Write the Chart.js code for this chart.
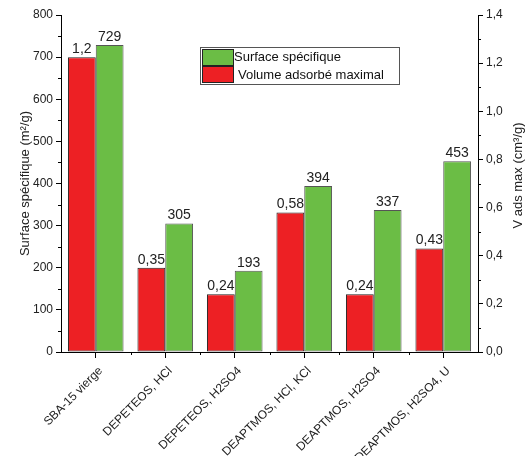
<!DOCTYPE html>
<html>
<head>
<meta charset="utf-8">
<script src="https://cdn.jsdelivr.net/npm/chart.js@4.4.1/dist/chart.umd.min.js"></script>
<style>
  body { margin: 0; background: #fff; }
</style>
</head>
<body>
<canvas id="barChart" width="528" height="456"></canvas>
<script>
var categories = ['SBA-15 vierge', 'DEPETEOS, HCl', 'DEPETEOS, H2SO4', 'DEAPTMOS, HCl, KCl', 'DEAPTMOS, H2SO4', 'DEAPTMOS, H2SO4, U'];
var surface = [729, 305, 193, 394, 337, 453];
var volume = [1.225, 0.35, 0.24, 0.58, 0.24, 0.43];
var volumeLabels = ['1,2', '0,35', '0,24', '0,58', '0,24', '0,43'];

var red = '#ED2024';
var green = '#6BBD45';
var FONT = 'Arial, "Liberation Sans", sans-serif';

Chart.defaults.font.family = FONT;

// value labels, category labels, minor ticks, axis titles and legend box
var extras = {
  id: 'extras',
  afterDatasetsDraw: function (chart) {
    var ctx = chart.ctx;
    ctx.save();
    ctx.font = '14px ' + FONT;
    ctx.fillStyle = '#222';
    ctx.textAlign = 'center';
    ctx.textBaseline = 'bottom';
    chart.getDatasetMeta(0).data.forEach(function (bar, i) {
      ctx.fillText(volumeLabels[i], bar.x, bar.y - 1);
    });
    chart.getDatasetMeta(1).data.forEach(function (bar, i) {
      ctx.fillText(String(surface[i]), bar.x, bar.y - 1);
    });
    ctx.restore();
  },
  afterDraw: function (chart) {
    var ctx = chart.ctx;
    var area = chart.chartArea;
    var sx = chart.scales.x, sy = chart.scales.y, sy1 = chart.scales.y1;
    ctx.save();
    ctx.strokeStyle = '#000';
    ctx.lineWidth = 1;
    ctx.beginPath();
    for (var v = 50; v < 800; v += 100) {
      var py = Math.round(sy.getPixelForValue(v)) + 0.5;
      ctx.moveTo(area.left - 3, py); ctx.lineTo(area.left, py);
    }
    for (var w = 0.1; w < 1.4; w += 0.2) {
      var py1 = Math.round(sy1.getPixelForValue(w)) + 0.5;
      ctx.moveTo(area.right, py1); ctx.lineTo(area.right + 3, py1);
    }
    var half = (sx.getPixelForValue(1) - sx.getPixelForValue(0)) / 2;
    for (var i = 0; i < categories.length - 1; i++) {
      var px = Math.round(sx.getPixelForValue(i) + half) + 0.5;
      ctx.moveTo(px, area.bottom); ctx.lineTo(px, area.bottom + 3);
    }
    ctx.stroke();

    // category labels at 45 degrees
    ctx.fillStyle = '#222';
    ctx.font = '12px ' + FONT;
    ctx.textAlign = 'right';
    ctx.textBaseline = 'middle';
    categories.forEach(function (c, k) {
      ctx.save();
      ctx.translate(sx.getPixelForValue(k) + 5, area.bottom + 17);
      ctx.rotate(-Math.PI / 4);
      ctx.fillText(c, 0, 0);
      ctx.restore();
    });

    // axis titles
    ctx.font = '13px ' + FONT;
    ctx.textAlign = 'center';
    var cy = (area.top + area.bottom) / 2;
    ctx.save();
    ctx.translate(area.left - 36, cy);
    ctx.rotate(-Math.PI / 2);
    ctx.fillText('Surface spécifique (m²/g)', 0, 0);
    ctx.restore();
    ctx.save();
    ctx.translate(area.right + 40, cy - 8);
    ctx.rotate(-Math.PI / 2);
    ctx.fillText('V ads max (cm³/g)', 0, 0);
    ctx.restore();

    // legend
    var lx = area.left + 139, ly = area.top + 32;
    ctx.strokeStyle = '#555';
    ctx.strokeRect(lx + 0.5, ly + 0.5, 199, 37);
    ctx.fillStyle = green;
    ctx.fillRect(lx + 2, ly + 2, 31, 16);
    ctx.strokeStyle = '#222';
    ctx.strokeRect(lx + 2.5, ly + 2.5, 31, 16);
    ctx.fillStyle = red;
    ctx.fillRect(lx + 2, ly + 19, 31, 16);
    ctx.strokeRect(lx + 2.5, ly + 19.5, 31, 16);
    ctx.fillStyle = '#111';
    ctx.textAlign = 'left';
    ctx.fillText('Surface spécifique', lx + 34, ly + 10);
    ctx.fillText('Volume adsorbé maximal', lx + 38, ly + 28);
    ctx.restore();
  }
};

var ctxB = document.getElementById('barChart').getContext('2d');
var myBarChart = new Chart(ctxB, {
  type: 'bar',
  data: {
    labels: categories,
    datasets: [{
      label: 'Volume adsorbé maximal',
      data: volume,
      yAxisID: 'y1',
      backgroundColor: red,
      borderColor: '#222',
      borderWidth: 1,
      borderSkipped: false
    }, {
      label: 'Surface spécifique',
      data: surface,
      yAxisID: 'y',
      backgroundColor: green,
      borderColor: '#555',
      borderWidth: 1,
      borderSkipped: false
    }]
  },
  options: {
    responsive: false,
    animation: false,
    categoryPercentage: 0.8,
    barPercentage: 1,
    layout: { padding: { top: 15 } },
    plugins: {
      legend: { display: false },
      tooltip: { enabled: false }
    },
    scales: {
      x: {
        grid: { display: true, drawOnChartArea: false, offset: false, tickLength: 6, color: '#000' },
        border: { color: '#000' },
        ticks: { display: false },
        afterFit: function (s) { s.height = 104; }
      },
      y: {
        position: 'left',
        min: 0,
        max: 800,
        ticks: { stepSize: 100, color: '#222', font: { size: 12 }, padding: 3 },
        grid: { drawOnChartArea: false, tickLength: 5, color: '#000' },
        border: { color: '#000' },
        afterFit: function (s) { s.width = 61; }
      },
      y1: {
        position: 'right',
        min: 0,
        max: 1.4,
        ticks: { stepSize: 0.2, color: '#222', font: { size: 12 }, padding: 3,
          callback: function (v) { return v.toFixed(1).replace('.', ','); } },
        grid: { drawOnChartArea: false, tickLength: 5, color: '#000' },
        border: { color: '#000' },
        afterFit: function (s) { s.width = 50; }
      }
    }
  },
  plugins: [extras]
});
</script>
</body>
</html>
